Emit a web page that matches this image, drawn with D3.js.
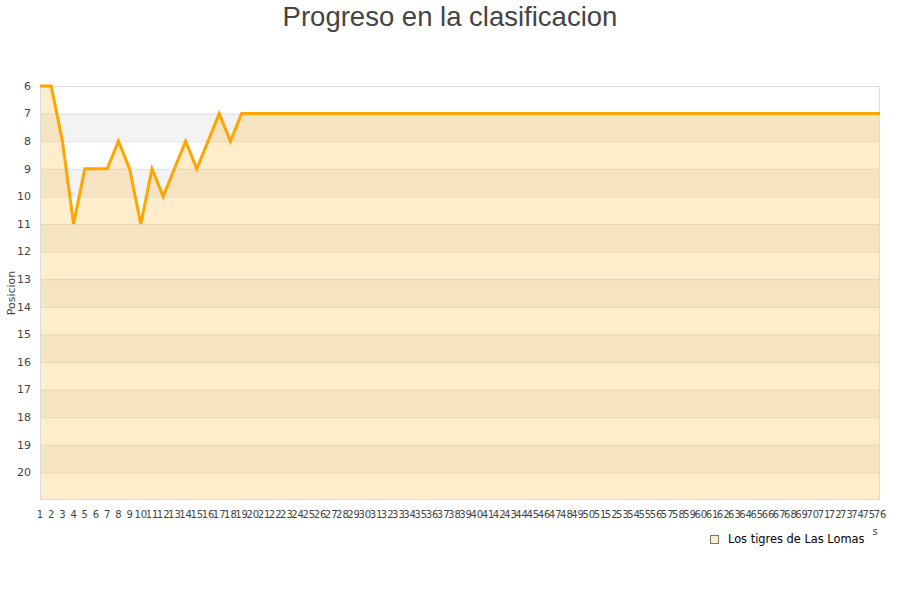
<!DOCTYPE html>
<html>
<head>
<meta charset="utf-8">
<script src="https://cdn.jsdelivr.net/npm/d3@7"></script>
<style>
  body { margin: 0; background: #fff; }
  svg { display: block; }
</style>
</head>
<body>
<svg id="chart" width="900" height="600"></svg>
<script>
const title = "Progreso en la clasificacion";
const seriesName = "Los tigres de Las Lomas";
const yTitle = "Posicion";
const jornadas = d3.range(1, 77);
const posiciones = [6, 6, 8, 11, 9, 9, 9, 8, 9, 11, 9, 10, 9, 8, 9, 8, 7, 8, 7,
  7, 7, 7, 7, 7, 7, 7, 7, 7, 7, 7, 7, 7, 7, 7, 7, 7, 7, 7, 7, 7,
  7, 7, 7, 7, 7, 7, 7, 7, 7, 7, 7, 7, 7, 7, 7, 7, 7, 7, 7, 7,
  7, 7, 7, 7, 7, 7, 7, 7, 7, 7, 7, 7, 7, 7, 7, 7];
const yTicks = d3.range(6, 21);

const svg = d3.select("#chart");
const L = 40, R = 880, T = 86, B = 500;
const x = d3.scaleLinear().domain([1, 76]).range([L, R]);
const y = d3.scaleLinear().domain([6, 21]).range([T, B]);

// bands
svg.append("g").selectAll("rect").data(d3.range(6, 21)).join("rect")
  .attr("x", L).attr("width", R - L)
  .attr("y", d => y(d)).attr("height", d => y(d + 1) - y(d))
  .attr("fill", d => d % 2 === 1 ? "#f3f3f3" : "#ffffff");

// grid lines
svg.append("g").selectAll("line").data(d3.range(7, 21)).join("line")
  .attr("x1", L).attr("x2", R)
  .attr("y1", d => y(d) + 0.5).attr("y2", d => y(d) + 0.5)
  .attr("stroke", "#e2e2e2").attr("stroke-width", 1);

const data = jornadas.map((j, i) => ({ j, p: posiciones[i] }));

// area
svg.append("path").datum(data)
  .attr("d", d3.area().x(d => x(d.j)).y0(y(21)).y1(d => y(d.p)))
  .attr("fill", "#ffa500").attr("fill-opacity", 0.2);

// frame
svg.append("rect").attr("x", L + 0.5).attr("y", T + 0.5)
  .attr("width", R - L - 1).attr("height", B - T - 1)
  .attr("fill", "none").attr("stroke", "#dcdcdc");

// line
svg.append("path").datum(data)
  .attr("d", d3.line().x(d => x(d.j)).y(d => y(d.p)))
  .attr("fill", "none").attr("stroke", "#ffa500").attr("stroke-width", 3)
  .attr("stroke-linejoin", "miter");

// y axis labels
svg.append("g").selectAll("text").data(yTicks).join("text")
  .attr("x", 31).attr("y", d => y(d))
  .attr("dy", "0.35em").attr("text-anchor", "end")
  .attr("font-family", "DejaVu Sans").attr("font-size", 11).attr("fill", "#444")
  .text(d => d);

// x axis labels
svg.append("g").selectAll("text").data(jornadas).join("text")
  .attr("x", d => x(d)).attr("y", 514)
  .attr("dy", "0.35em").attr("text-anchor", "middle")
  .attr("font-family", "DejaVu Sans").attr("font-size", 10).attr("fill", "#444")
  .text(d => d);

// stray bits of x title
svg.append("text").attr("x", 875).attr("y", 531).attr("dy", "0.35em")
  .attr("text-anchor", "middle").attr("font-family", "DejaVu Sans")
  .attr("font-size", 10).attr("fill", "#444").text("s");

// y title
svg.append("text")
  .attr("transform", "translate(11,293) rotate(-90)")
  .attr("text-anchor", "middle").attr("dy", "0.35em")
  .attr("font-family", "DejaVu Sans").attr("font-size", 11).attr("fill", "#444")
  .text(yTitle);

// title
svg.append("text").attr("x", 450).attr("y", 16).attr("dy", "0.35em")
  .attr("text-anchor", "middle").attr("font-family", "Liberation Sans")
  .attr("font-size", 27.5).attr("fill", "#444").text(title);

// legend
svg.append("rect").attr("x", 710.5).attr("y", 535.5).attr("width", 8).attr("height", 8)
  .attr("fill", "#ffeecc").attr("stroke", "#777").attr("stroke-width", 1);
svg.append("text").attr("x", 728).attr("y", 539.5).attr("dy", "0.35em")
  .attr("font-family", "DejaVu Sans").attr("font-size", 11.4).attr("fill", "#000")
  .text(seriesName);
</script>
</body>
</html>
